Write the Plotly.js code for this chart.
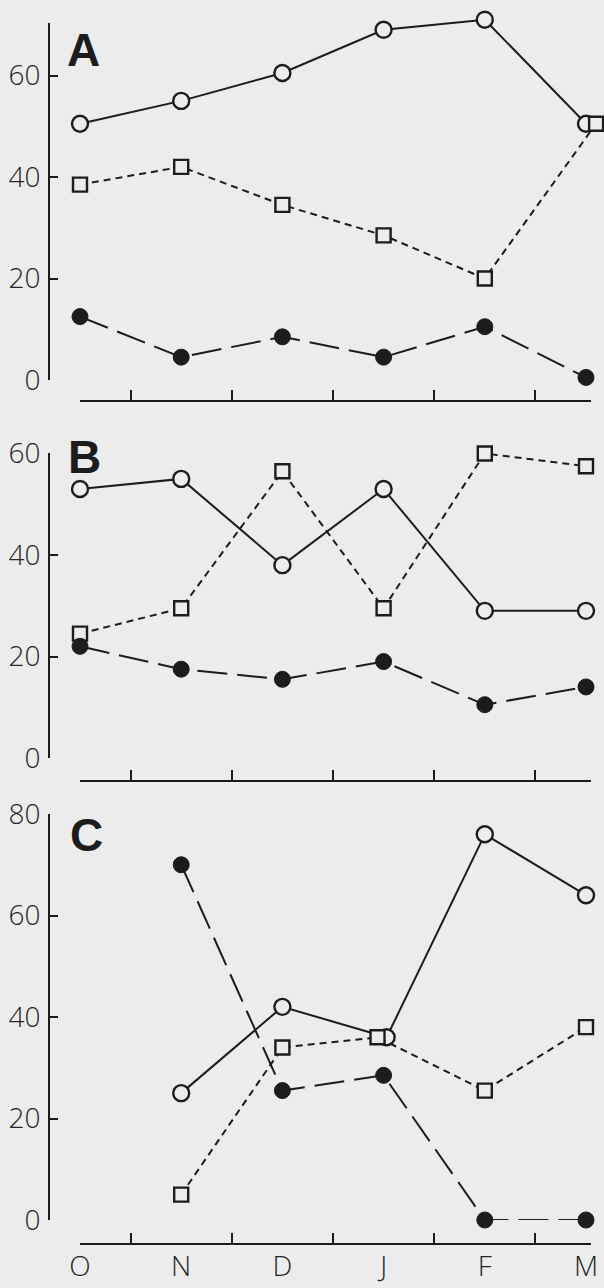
<!DOCTYPE html>
<html>
<head>
<meta charset="utf-8">
<script src="https://cdn.plot.ly/plotly-3.0.1.min.js"></script>
<style>
  html, body { margin: 0; padding: 0; background: #ececec; }
  #chart { width: 604px; height: 1288px; }
</style>
</head>
<body>
<div id="chart"></div>
<script>
// ---- data ----
const months = ['O', 'N', 'D', 'J', 'F', 'M'];
const monthIndex = [0, 1, 2, 3, 4, 5];
const yTicks = [0, 20, 40, 60, 80];

// Panel A
const aOpen   = [50.5, 55, 60.5, 69, 71, 50.5];
const aSquare = [38.5, 42, 34.5, 28.5, 20, 50.5];
const aFilled = [12.5, 4.5, 8.5, 4.5, 10.5, 0.5];
const aSquareShift = [0, 0, 0, 0, 0, 0.1];

// Panel B
const bOpen   = [53, 55, 38, 53, 29, 29];
const bSquare = [24.5, 29.5, 56.5, 29.5, 60, 57.5];
const bFilled = [22, 17.5, 15.5, 19, 10.5, 14];

// Panel C (no October sample)
const cOpen   = [null, 25, 42, 36, 76, 64];
const cSquare = [null, 5, 34, 36, 25.5, 38];
const cFilled = [null, 70, 25.5, 28.5, 0, 0];
const cOpenShift   = [0, 0, 0, 0.03, 0, 0];
const cSquareShift = [0, 0, 0, -0.06, 0, 0];

const panelLetters = ['A', 'B', 'C'];

// ---- styling ----
const BG = '#ececec';
const INK = '#1c1c1c';
const W = 604, H = 1288;
const px2x = p => p / W;
const px2y = p => 1 - p / H;

function shifted(shift) {
  return monthIndex.map((v, i) => v + (shift ? shift[i] : 0));
}

function openTrace(y, xa, ya, shift) {
  return {
    x: shifted(shift), y: y, xaxis: xa, yaxis: ya, type: 'scatter', mode: 'lines+markers',
    line: { color: INK, width: 2 }, cliponaxis: false, connectgaps: false,
    marker: { symbol: 'circle', size: 16, color: BG, line: { color: INK, width: 2.4 } },
    hoverinfo: 'skip', showlegend: false
  };
}
function squareTrace(y, xa, ya, shift) {
  return {
    x: shifted(shift), y: y, xaxis: xa, yaxis: ya, type: 'scatter', mode: 'lines+markers',
    line: { color: INK, width: 2, dash: '7px,5px' }, cliponaxis: false,
    marker: { symbol: 'square', size: 14, color: BG, line: { color: INK, width: 2.4 } },
    hoverinfo: 'skip', showlegend: false
  };
}
function filledTrace(y, xa, ya) {
  return {
    x: shifted(null), y: y, xaxis: xa, yaxis: ya, type: 'scatter', mode: 'lines+markers',
    line: { color: INK, width: 2, dash: '30px,10px' }, cliponaxis: false,
    marker: { symbol: 'circle', size: 16, color: INK, line: { color: INK, width: 1 } },
    hoverinfo: 'skip', showlegend: false
  };
}
// empty traces so the separate axis-line subplots get built
function axisHolder(xa, ya) {
  return { x: [], y: [], xaxis: xa, yaxis: ya, type: 'scatter', mode: 'lines', hoverinfo: 'skip', showlegend: false };
}

const traces = [
  axisHolder('x7', 'y7'),
  openTrace(aOpen, 'x', 'y'), squareTrace(aSquare, 'x', 'y', aSquareShift), filledTrace(aFilled, 'x', 'y'),
  openTrace(bOpen, 'x2', 'y2'), squareTrace(bSquare, 'x2', 'y2'), filledTrace(bFilled, 'x2', 'y2'),
  openTrace(cOpen, 'x3', 'y3', cOpenShift), squareTrace(cSquare, 'x3', 'y3', cSquareShift), filledTrace(cFilled, 'x3', 'y3'),
  axisHolder('x4', 'y4'), axisHolder('x5', 'y5'), axisHolder('x6', 'y6')
];

// x mapping: O at px 80, one month = 101.2 px
const X0 = 80, STEP = 101.2;
const dataXRange = [(50 - X0) / STEP, (W - X0) / STEP];
const lineXRange = [0, (591 - X0) / STEP];
const PXPU = 5.075; // pixels per y unit

const tickFont = { family: 'Open Sans, Liberation Sans, sans-serif', size: 28, color: '#262626', weight: 300 };

function dataX(anchor, showLabels, position) {
  const ax = {
    domain: [px2x(50), 1], range: dataXRange, showline: false, showgrid: false, zeroline: false,
    ticks: '', fixedrange: true, showticklabels: !!showLabels
  };
  if (showLabels) {
    ax.anchor = 'free';
    ax.position = position;
    ax.tickvals = monthIndex;
    ax.ticktext = months;
    ax.tickfont = tickFont;
    ax.ticklabelstandoff = 0;
  } else {
    ax.anchor = anchor;
  }
  return ax;
}
function lineX(anchor) {
  return {
    domain: [px2x(X0), px2x(591)], range: lineXRange, anchor: anchor,
    showline: true, linecolor: INK, linewidth: 2, showgrid: false, zeroline: false,
    ticks: 'inside', ticklen: 10, tickwidth: 2, tickcolor: INK,
    tickvals: [0.5, 1.5, 2.5, 3.5, 4.5], showticklabels: false, fixedrange: true
  };
}
function holderY(posPx, anchor) {
  return {
    domain: [px2y(posPx), px2y(posPx - 2)], anchor: anchor, visible: false, range: [0, 1], fixedrange: true
  };
}
function dataY(topPx, bottomPx, anchor, showAxis) {
  const maxV = (bottomPx - topPx) / PXPU;
  const ax = {
    domain: [px2y(bottomPx), px2y(topPx)], range: [0, maxV], anchor: anchor,
    showgrid: false, zeroline: false, fixedrange: true
  };
  if (showAxis) {
    Object.assign(ax, {
      showline: true, linecolor: INK, linewidth: 2,
      ticks: 'inside', ticklen: 8, tickwidth: 2, tickcolor: INK,
      tickvals: yTicks.filter(v => v <= maxV + 0.01), tickfont: tickFont, ticklabelstandoff: 2
    });
  } else {
    Object.assign(ax, { showline: false, ticks: '', showticklabels: false });
  }
  return ax;
}

const layout = {
  width: W, height: H,
  margin: { l: 0, r: 0, t: 0, b: 0 },
  paper_bgcolor: BG, plot_bgcolor: 'rgba(0,0,0,0)',
  showlegend: false,
  xaxis: dataX('y'),
  xaxis2: dataX('y2'),
  xaxis3: dataX('y3', true, px2y(1247)),
  xaxis4: lineX('y4'),
  xaxis5: lineX('y5'),
  xaxis6: lineX('y6'),
  xaxis7: Object.assign(dataX('y7'), { visible: false }),
  // panel A: data axis reaches a little higher than the drawn axis line
  yaxis: dataY(12, 380, 'x', false),
  yaxis7: dataY(23, 380, 'x7', true),
  yaxis2: dataY(453, 758, 'x2', true),
  yaxis3: dataY(814, 1220, 'x3', true),
  yaxis4: holderY(400, 'x4'),
  yaxis5: holderY(780, 'x5'),
  yaxis6: holderY(1243, 'x6'),
  annotations: [
    { text: panelLetters[0], x: px2x(83), y: px2y(50) },
    { text: panelLetters[1], x: px2x(84), y: px2y(457) },
    { text: panelLetters[2], x: px2x(87), y: px2y(835) }
  ].map(a => Object.assign(a, {
    xref: 'paper', yref: 'paper', showarrow: false, xanchor: 'center', yanchor: 'middle',
    font: { family: 'Liberation Sans, Arial, sans-serif', size: 46, color: INK, weight: 'bold' }
  }))
};

Plotly.newPlot('chart', traces, layout, { staticPlot: true, displayModeBar: false });
</script>
</body>
</html>
